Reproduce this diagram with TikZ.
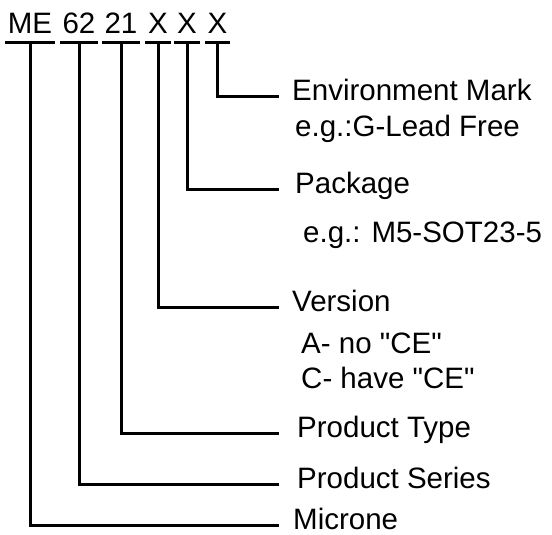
\documentclass[tikz,border=0pt]{standalone}
\usepackage{fontspec}
\setmainfont{Liberation Sans}[Ligatures=TeXOff]
\begin{document}
\begin{tikzpicture}[x=1pt,y=-1pt,
  tok/.style={inner xsep=1pt,inner ysep=0pt,anchor=base,text height=0.72em,text depth=0pt,font=\fontsize{29.5}{34}\selectfont},
  lbl/.style={inner sep=0pt,anchor=base west,text height=0.72em,text depth=0pt,font=\fontsize{29.5}{34}\selectfont},
  ln/.style={line width=3pt,line cap=rect},
  conn/.style={line width=3pt}]
\useasboundingbox (0,0) rectangle (552,535);
% tokens
\node[tok] (tME) at (30,34) {ME};
\node[tok] (t62) at (79,34) {62};
\node[tok] (t21) at (121,34) {21};
\node[tok] (tX1) at (158,34) {X};
\node[tok] (tX2) at (187,34) {X};
\node[tok] (tX3) at (217.5,34) {X};
% underlines
\foreach \t in {tME,t62,t21,tX1,tX2,tX3}{
  \draw[ln] ([yshift=-8pt]\t.south west) -- ([yshift=-8pt]\t.south east);
}
% labels
\node[lbl] (env) at (292,100) {Environment Mark};
\node[lbl] (envex) at (295,136) {e.g.:G-Lead Free};
\node[lbl] (pkg) at (295,193) {Package};
\node[lbl] (pkgex) at (303,242) {e.g.: M5-SOT23-5};
\node[lbl] (ver) at (292,311) {Version};
\node[lbl] (verA) at (301,353) {A- no "CE"};
\node[lbl] (verC) at (301,388) {C- have "CE"};
\node[lbl] (ptype) at (297,437) {Product Type};
\node[lbl] (pser) at (297,488) {Product Series};
\node[lbl] (micro) at (293,529) {Microne};
\coordinate (endx) at (279,0);
% connectors
\draw[conn] ([yshift=-8pt]tX3.south) |- (env.west -| endx);
\draw[conn] ([yshift=-8pt]tX2.south) |- (pkg.west -| endx);
\draw[conn] ([yshift=-8pt]tX1.south) |- (ver.west -| endx);
\draw[conn] ([yshift=-8pt]t21.south) |- (ptype.west -| endx);
\draw[conn] ([yshift=-8pt]t62.south) |- (pser.west -| endx);
\draw[conn] ([yshift=-8pt]tME.south) |- (micro.west -| endx);
\end{tikzpicture}
\end{document}
